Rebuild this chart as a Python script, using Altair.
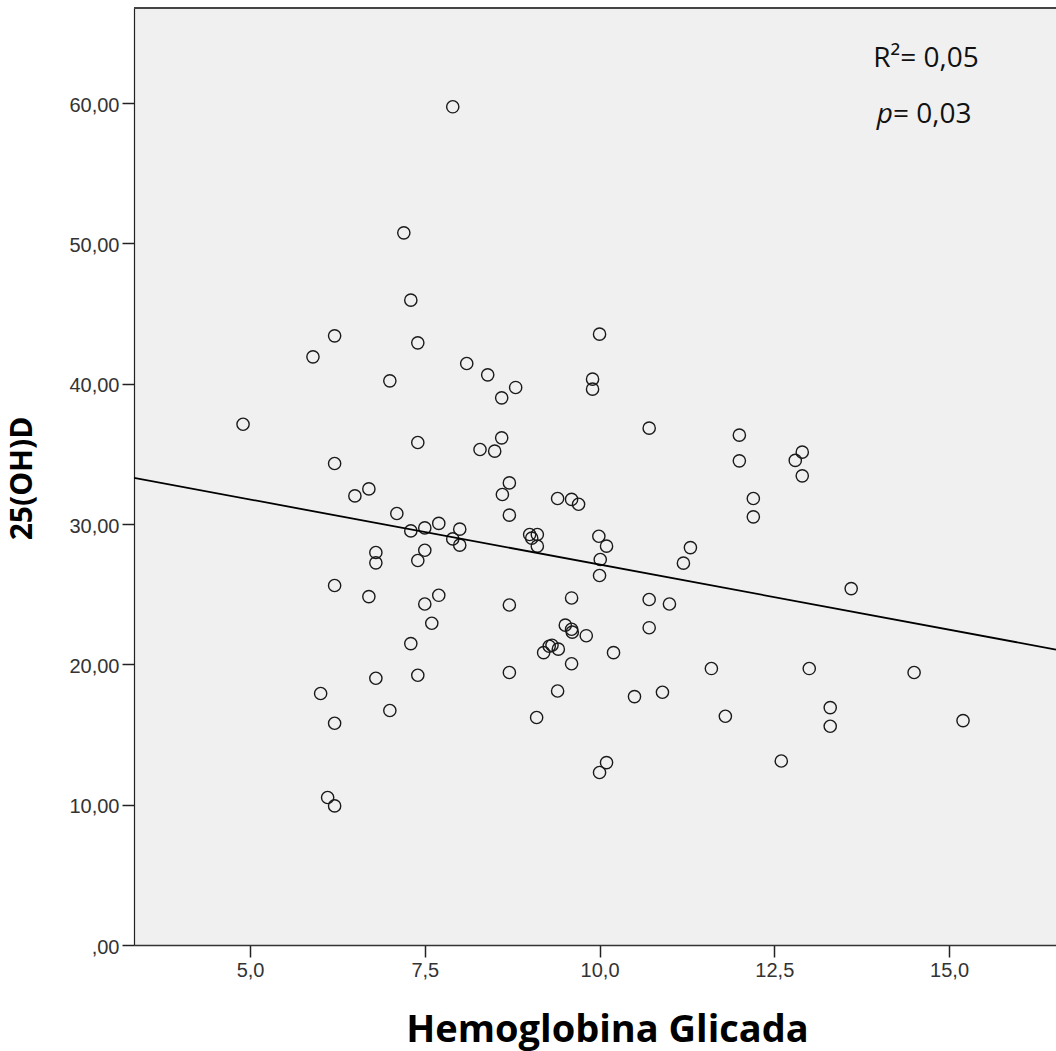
import altair as alt
import pandas as pd

# HbA1c (Hemoglobina Glicada) values
hba1c = [7.90, 7.20, 7.30, 7.40, 6.21, 5.90, 7.00, 8.10, 8.40, 8.80,
         8.60, 10.00, 9.90, 9.90, 4.90, 7.40, 8.60, 8.29, 8.50, 6.21,
         8.71, 8.61, 6.70, 6.50, 7.10, 8.71, 7.30, 7.50, 7.70, 8.00,
         7.90, 8.00, 6.80, 6.80, 7.50, 7.40, 6.21, 6.70, 7.70, 7.50,
         8.71, 7.60, 7.30, 9.40, 9.60, 9.70, 9.00, 9.11, 9.11, 9.03,
         9.99, 10.10, 10.01, 10.00, 11.30, 11.20, 10.71, 12.00, 12.00, 12.90,
         12.80, 12.90, 12.20, 12.20, 13.60, 9.60, 10.71, 11.00, 10.71, 9.51,
         9.60, 9.61, 9.81, 9.28, 9.32, 9.41, 9.20, 10.20, 9.60, 8.71,
         9.40, 9.10, 11.60, 13.00, 10.50, 10.90, 11.80, 13.30, 13.30, 10.10,
         10.00, 12.60, 14.50, 15.20, 6.80, 7.40, 6.01, 7.00, 6.21, 6.11, 6.21]

# 25(OH)D values
vitd = [59.73, 50.75, 45.95, 42.91, 43.41, 41.91, 40.20, 41.44, 40.63, 39.73,
        38.99, 43.53, 40.32, 39.61, 37.11, 35.81, 36.14, 35.31, 35.19, 34.31,
        32.93, 32.10, 32.50, 32.00, 30.75, 30.63, 29.51, 29.72, 30.04, 29.63,
        28.94, 28.49, 27.97, 27.23, 28.13, 27.40, 25.62, 24.83, 24.92, 24.30,
        24.23, 22.93, 21.48, 31.82, 31.75, 31.41, 29.25, 29.25, 28.42, 28.99,
        29.13, 28.42, 27.47, 26.33, 28.32, 27.21, 36.83, 36.33, 34.50, 35.12,
        34.53, 33.43, 31.82, 30.51, 25.40, 24.73, 24.62, 24.30, 22.61, 22.79,
        22.50, 22.29, 22.04, 21.29, 21.36, 21.08, 20.83, 20.83, 20.04, 19.42,
        18.10, 16.21, 19.70, 19.70, 17.70, 18.01, 16.30, 16.92, 15.59, 13.00,
        12.29, 13.11, 19.42, 15.99, 19.01, 19.22, 17.92, 16.71, 15.80, 10.51, 9.91]

# Fit line end points
fit_x = [3.34, 16.53]
fit_y = [33.29, 21.05]

x_ticks = [5.0, 7.5, 10.0, 12.5, 15.0]
y_ticks = [0, 10, 20, 30, 40, 50, 60]

x_domain = [3.34, 16.53]
y_domain = [0, 66.77]

W, H = 922, 937

pts = pd.DataFrame({"x": hba1c, "y": vitd})
fit = pd.DataFrame({"x": fit_x, "y": fit_y})

xscale = alt.Scale(domain=x_domain, nice=False, zero=False)
yscale = alt.Scale(domain=y_domain, nice=False, zero=False)

x_axis = alt.Axis(
    values=x_ticks,
    labelExpr="replace(format(datum.value, '.1f'), '.', ',')",
    grid=False, tickSize=12, tickWidth=1.5, tickColor="#222",
    domainColor="#333", domainWidth=1.5,
    labelFont="Liberation Sans", labelFontSize=20, labelColor="#333",
    labelPadding=3,
    title="Hemoglobina Glicada", titleFont="Open Sans", titleFontWeight="bold",
    titleFontSize=38, titleColor="#000",
    titleX=473, titleY=96, titleAlign="center", titleBaseline="alphabetic",
)
y_axis = alt.Axis(
    values=y_ticks,
    labelExpr="datum.value == 0 ? ',00' : replace(format(datum.value, '.2f'), '.', ',')",
    grid=False, tickSize=12, tickWidth=1.5, tickColor="#222",
    domainColor="#222", domainWidth=1.2,
    labelFont="Liberation Sans", labelFontSize=20, labelColor="#333",
    labelPadding=3, labelOffset=2,
    title="25(OH)D", titleFont="Open Sans", titleFontWeight="bold",
    titleFontSize=30, titleColor="#000", titleAngle=270,
    titleX=-112, titleY=470, titleAlign="center", titleBaseline="middle",
)

points = alt.Chart(pts).mark_point(
    shape="circle", filled=False, color="#1a1a1a", strokeWidth=1.4, size=150, opacity=1
).encode(
    x=alt.X("x:Q", scale=xscale, axis=x_axis),
    y=alt.Y("y:Q", scale=yscale, axis=y_axis),
)

line = alt.Chart(fit).mark_line(color="#000", strokeWidth=1.8, clip=True).encode(
    x=alt.X("x:Q", scale=xscale),
    y=alt.Y("y:Q", scale=yscale),
)

top_rule = alt.Chart(pts).mark_rule(color="#444", strokeWidth=1.5).encode(
    x=alt.value(0), x2=alt.value(W), y=alt.value(0)
)

ann = pd.DataFrame({"t": ["R²= 0,05"]})
r2 = alt.Chart(ann).mark_text(
    font="Open Sans", fontSize=28, color="#111", align="center", baseline="alphabetic"
).encode(text="t:N", x=alt.value(792), y=alt.value(58.7))

p_df = pd.DataFrame({"t": ["p"]})
p_it = alt.Chart(p_df).mark_text(
    font="Open Sans", fontSize=28, fontStyle="italic", color="#111",
    align="right", baseline="alphabetic"
).encode(text="t:N", x=alt.value(759), y=alt.value(115.3))

pv_df = pd.DataFrame({"t": ["= 0,03"]})
p_val = alt.Chart(pv_df).mark_text(
    font="Open Sans", fontSize=28, color="#111", align="left", baseline="alphabetic"
).encode(text="t:N", x=alt.value(759), y=alt.value(115.3))

chart = alt.layer(points, line, top_rule, r2, p_it, p_val).properties(
    width=W, height=H,
    autosize=alt.AutoSizeParams(type="none"),
    padding={"left": 134, "top": 8, "right": 0, "bottom": 106},
    background="white",
).configure_view(fill="#F0F0F0", stroke="transparent")

chart.save("out.html", embed_options={"renderer": "svg", "actions": False})
